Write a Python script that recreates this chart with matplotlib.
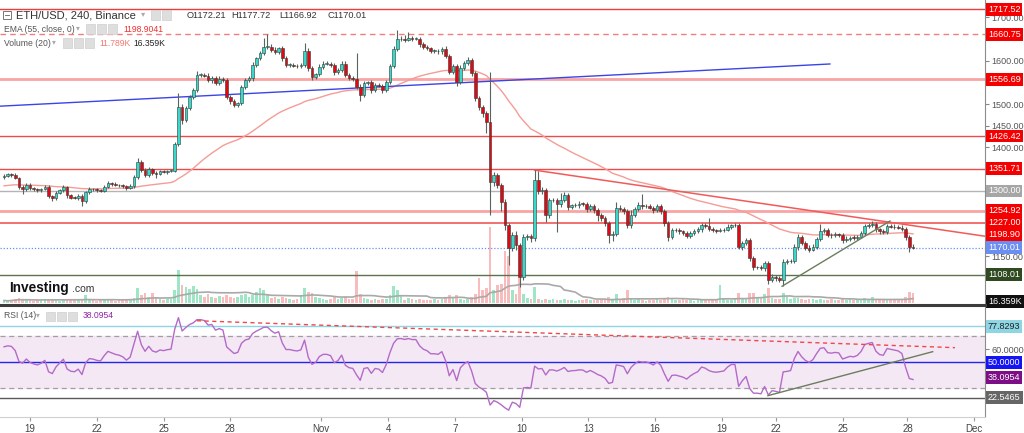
import numpy as np
import pandas as pd
import matplotlib
matplotlib.use("Agg")
import matplotlib.pyplot as plt
from matplotlib.patches import Rectangle
from matplotlib.lines import Line2D
from matplotlib.transforms import blended_transform_factory

plt.rcParams['font.family'] = ['Liberation Sans', 'DejaVu Sans']

# ETH/USD 4h candles, first candle index -7 (Oct 18), last one Nov 28
FIRST_INDEX = -7
FIRST_OPEN = 1332
closes = [
    1335, 1338, 1337, 1330, 1309, 1305, 1314, 1307, 1304, 1302,
    1305, 1310, 1288, 1284, 1295, 1302, 1309, 1290, 1285, 1284,
    1288, 1277, 1297, 1305, 1304, 1302, 1301, 1310, 1318, 1316,
    1314, 1313, 1311, 1307, 1311, 1332, 1367, 1348, 1337, 1350,
    1342, 1340, 1345, 1344, 1346, 1347, 1408, 1493, 1463, 1490,
    1516, 1532, 1567, 1567, 1565, 1555, 1560, 1548, 1558, 1555,
    1516, 1507, 1498, 1502, 1539, 1555, 1560, 1590, 1605, 1617,
    1631, 1632, 1625, 1620, 1628, 1605, 1590, 1590, 1588, 1587,
    1590, 1622, 1583, 1562, 1568, 1586, 1593, 1593, 1590, 1573,
    1578, 1593, 1567, 1560, 1558, 1539, 1520, 1548, 1550, 1532,
    1544, 1542, 1532, 1551, 1587, 1626, 1649, 1650, 1648, 1652,
    1650, 1650, 1638, 1631, 1628, 1622, 1622, 1621, 1627, 1611,
    1574, 1587, 1551, 1583, 1594, 1601, 1571, 1514, 1493, 1479,
    1459, 1321, 1336, 1314, 1275, 1222, 1169, 1199, 1175, 1102,
    1194, 1196, 1191, 1325, 1300, 1303, 1245, 1279, 1279, 1270,
    1279, 1291, 1263, 1267, 1268, 1271, 1270, 1258, 1265, 1256,
    1245, 1238, 1226, 1199, 1202, 1261, 1258, 1254, 1222, 1245,
    1258, 1268, 1265, 1266, 1262, 1256, 1265, 1255, 1226, 1194,
    1210, 1211, 1207, 1203, 1196, 1203, 1208, 1212, 1222, 1219,
    1213, 1210, 1209, 1210, 1211, 1217, 1221, 1221, 1171, 1180,
    1187, 1146, 1125, 1125, 1122, 1134, 1095, 1103, 1100, 1095,
    1137, 1138, 1140, 1171, 1194, 1180, 1170, 1165, 1172, 1190,
    1208, 1210, 1199, 1198, 1200, 1199, 1187, 1190, 1193, 1192,
    1195, 1203, 1219, 1222, 1224, 1212, 1207, 1206, 1219, 1218,
    1217, 1216, 1213, 1194, 1172.21, 1170.01,
]
wick_up = [
    3, 4, 3, 4, 3, 5, 4, 4, 3, 4,
    3, 4, 4, 3, 4, 3, 4, 3, 4, 3,
    4, 4, 4, 5, 3, 4, 3, 4, 5, 3,
    4, 3, 4, 3, 4, 5, 8, 5, 4, 5,
    4, 5, 3, 4, 3, 4, 5, 32, 6, 5,
    4, 5, 8, 5, 4, 6, 4, 5, 6, 4,
    4, 5, 4, 3, 5, 4, 5, 6, 4, 5,
    21, 29, 6, 5, 4, 5, 6, 4, 5, 4,
    5, 18, 6, 5, 4, 6, 5, 7, 4, 5,
    4, 6, 5, 4, 5, 60, 6, 5, 4, 5,
    4, 5, 4, 5, 6, 7, 21, 6, 8, 14,
    5, 4, 5, 4, 5, 4, 4, 5, 4, 6,
    5, 6, 5, 6, 5, 7, 5, 6, 5, 4,
    5, 115, 8, 6, 5, 6, 5, 6, 8, 5,
    6, 5, 4, 23, 20, 6, 5, 6, 5, 4,
    16, 6, 5, 4, 5, 6, 4, 5, 6, 4,
    5, 4, 5, 6, 5, 14, 6, 5, 4, 12,
    5, 6, 25, 4, 5, 4, 6, 5, 4, 5,
    4, 5, 3, 4, 5, 4, 5, 6, 5, 4,
    18, 4, 3, 4, 5, 6, 4, 5, 6, 4,
    5, 4, 5, 3, 4, 5, 4, 6, 4, 5,
    6, 5, 4, 6, 7, 5, 4, 5, 6, 5,
    15, 6, 5, 4, 5, 4, 5, 6, 4, 5,
    4, 5, 6, 5, 8, 5, 4, 5, 6, 4,
    5, 4, 5, 4, 5, 5.51,
]
wick_dn = [
    4, 3, 4, 3, 5, 12, 4, 5, 3, 4,
    4, 3, 5, 6, 4, 3, 4, 5, 4, 3,
    4, 12, 4, 3, 4, 5, 3, 4, 3, 4,
    3, 4, 5, 4, 3, 4, 5, 4, 5, 4,
    5, 10, 4, 3, 4, 3, 4, 5, 8, 5,
    4, 5, 4, 5, 4, 5, 6, 5, 4, 5,
    5, 6, 5, 4, 5, 4, 5, 6, 5, 4,
    5, 4, 6, 5, 4, 5, 6, 5, 4, 5,
    4, 5, 8, 6, 5, 4, 5, 4, 5, 6,
    5, 4, 6, 5, 4, 5, 12, 5, 4, 6,
    5, 4, 6, 5, 4, 5, 4, 5, 6, 4,
    5, 4, 6, 5, 4, 5, 4, 5, 6, 5,
    5, 6, 10, 5, 4, 5, 6, 7, 6, 8,
    26, 76, 10, 8, 20, 12, 40, 8, 10, 23,
    7, 6, 8, 5, 6, 7, 17, 6, 5, 65,
    6, 5, 7, 5, 4, 6, 5, 7, 4, 6,
    15, 6, 7, 19, 15, 6, 5, 7, 8, 6,
    5, 4, 6, 5, 4, 6, 5, 7, 6, 8,
    5, 4, 6, 5, 4, 5, 4, 5, 6, 5,
    5, 4, 5, 4, 5, 4, 5, 4, 5, 6,
    5, 8, 6, 5, 4, 6, 8, 5, 6, 5,
    14, 5, 4, 5, 6, 5, 6, 5, 4, 5,
    5, 4, 5, 6, 4, 5, 6, 4, 5, 4,
    5, 4, 5, 4, 5, 6, 5, 4, 5, 4,
    5, 4, 5, 6, 12, 3.09,
]
# volume in thousands
volume = [
    4, 3, 5, 6, 8, 5, 4, 6, 3, 4,
    5, 7, 6, 4, 5, 3, 6, 4, 7, 5,
    4, 6, 13, 5, 4, 3, 4, 5, 6, 4,
    3, 5, 4, 6, 5, 8, 24, 13, 16, 10,
    16, 10, 6, 5, 7, 6, 21, 53, 29, 26,
    22, 27, 22, 12, 9, 14, 10, 8, 11, 9,
    13, 10, 8, 9, 12, 15, 10, 13, 18, 24,
    20, 12, 8, 9, 7, 10, 8, 6, 5, 7,
    12, 24, 18, 16, 10, 8, 6, 5, 7, 9,
    6, 8, 10, 7, 6, 50, 14, 8, 6, 5,
    6, 5, 7, 6, 12, 27, 20, 12, 5, 8,
    6, 5, 7, 5, 5, 4, 6, 5, 6, 9,
    13, 8, 12, 6, 5, 7, 10, 15, 40, 21,
    24, 120, 20, 28, 30, 82, 74, 20, 15, 40,
    15, 8, 6, 26, 7, 5, 6, 5, 7, 5,
    4, 6, 5, 4, 3, 5, 4, 6, 4, 5,
    4, 6, 7, 10, 6, 14, 5, 8, 20, 6,
    5, 6, 4, 3, 5, 4, 6, 5, 8, 9,
    7, 5, 4, 6, 4, 5, 3, 4, 6, 5,
    4, 5, 6, 28, 8, 5, 4, 6, 16, 8,
    7, 16, 16, 10, 8, 14, 24, 8, 6, 7,
    16, 9, 7, 8, 8, 6, 5, 7, 6, 5,
    6, 5, 4, 6, 5, 4, 7, 5, 6, 4,
    5, 6, 8, 5, 9, 6, 5, 4, 6, 5,
    4, 5, 6, 9, 17, 16.359,
]

EMA_PERIOD = 55
EMA_SEED = 1311
RSI_PERIOD = 14
RSI_SEED_GAIN = 7.0
RSI_SEED_LOSS = 4.3
VOL_MA_PERIOD = 20

tick_pos = [0, 18, 36, 54, 78.5, 96.5, 114.5, 132.5, 150.5, 168.5, 186.5, 201, 219, 236.5, 254.5]
tick_labels = ['19', '22', '25', '28', 'Nov', '4', '7', '10', '13', '16', '19', '22', '25', '28', 'Dec']
price_ticks = [1150, 1400, 1450, 1500, 1600, 1700]
rsi_ticks = [60]

# horizontal levels drawn on the price pane
level_prices = [1717.52, 1660.75, 1556.69, 1426.42, 1351.71, 1300.00, 1254.92, 1227.00, 1108.01]
level_colors = ['#f23a3a', '#f37c7c', '#f9a5a5', '#ee4a4a', '#ee4a4a', '#b4b4b4', '#f9a5a5', '#f37070', '#5d7350']
level_styles = ['-', (0, (4, 3)), '-', '-', '-', '-', '-', '-', '-']
level_widths = [1.0, 1.0, 2.0, 1.0, 1.0, 1.0, 2.0, 1.4, 1.0]
last_price = 1170.01
ema_last = 1198.90
vol_last = 16.359

blue_line_x, blue_line_y = [-8.09, 215.6], [1495, 1592]
red_trend_x, red_trend_y = [136, 257.4], [1348, 1196]
green_trend_x, green_trend_y = [202.7, 231.8], [1081, 1231]
rsi_red_x, rsi_red_y = [45, 249.3], [82.1, 61.3]
rsi_green_x, rsi_green_y = [198.9, 243.3], [24.2, 58.2]
rsi_levels = [77.8293, 50.0, 22.5465]
rsi_last = 38.0954

W, H = 1024, 433
XMIN, XMAX = -8.09, 257.4


def fx(x):
    return x / W


def fy(y):
    return 1 - y / H


def ema(vals, n, seed):
    k = 2 / (n + 1)
    e = seed
    out = []
    for v in vals:
        e = e + k * (v - e)
        out.append(e)
    return np.array(out)


def rsi(vals, n, g0, l0):
    ag, al = g0, l0
    out = [100 - 100 / (1 + ag / al)]
    for prev, v in zip(vals[:-1], vals[1:]):
        d = v - prev
        ag = (ag * (n - 1) + max(d, 0)) / n
        al = (al * (n - 1) + max(-d, 0)) / n
        out.append(100 - 100 / (1 + ag / al))
    return np.array(out)


c = np.array(closes, dtype=float)
o = np.r_[FIRST_OPEN, c[:-1]]
hi = np.maximum(o, c) + np.array(wick_up)
lo = np.minimum(o, c) - np.array(wick_dn)
idx = np.arange(FIRST_INDEX, FIRST_INDEX + len(c))
up = c >= o
vol = np.array(volume, dtype=float)

UP_C, DN_C = '#38d9cb', '#e30613'
fig = plt.figure(figsize=(W / 100, H / 100), dpi=100)

# ---- price pane
ax = fig.add_axes([0, fy(303), fx(985), 303 / H])
axv = ax.twinx()
axv.set_zorder(ax.get_zorder() - 1)
ax.patch.set_visible(False)
axv.bar(idx, vol, width=0.72, color=np.where(up, '#9fe6c6', '#f9bcbc'), linewidth=0)
axv.plot(idx, pd.Series(vol).rolling(VOL_MA_PERIOD, min_periods=1).mean(), color='#a9a9a9', lw=1.2)
axv.set_ylim(0, 480)
axv.set_yticks([])
for s in axv.spines.values():
    s.set_visible(False)

for p, col, ls, lw in zip(level_prices, level_colors, level_styles, level_widths):
    ax.axhline(p, color=col, ls=ls, lw=lw, zorder=1)
ax.axhline(last_price, color='#6f8ff0', ls=(0, (1, 1.5)), lw=0.9, zorder=1)

ax.plot(idx, ema(c, EMA_PERIOD, EMA_SEED), color='#f59c96', lw=1.0, zorder=2)
ax.plot(blue_line_x, blue_line_y, color='#3a45e6', lw=1.0, zorder=2)
ax.plot(red_trend_x, red_trend_y, color='#f25a5a', lw=1.1, zorder=2)
ax.plot(green_trend_x, green_trend_y, color='#6c7d5c', lw=1.0, zorder=5)

ax.vlines(idx, lo, hi, color='#56655a', lw=0.8, zorder=3)
body = np.maximum(np.abs(c - o), 1.3)
ax.bar(idx, body, bottom=np.minimum(o, c), width=0.72, color=np.where(up, UP_C, DN_C),
       edgecolor='#2e3b35', linewidth=0.4, zorder=4)

ax.set_xlim(XMIN, XMAX)
ax.set_ylim(1042.5, 1739.1)
ax.yaxis.tick_right()
ax.set_yticks(price_ticks)
ax.yaxis.set_major_formatter('{x:.2f}')
ax.tick_params(axis='y', length=3, pad=1.5, labelsize=6.5, colors='#888', labelcolor='#555')
ax.set_xticks([])
for side in ['top', 'left', 'bottom']:
    ax.spines[side].set_visible(False)
ax.spines['right'].set_color('#8c8c8c')

# ---- RSI pane
axr = fig.add_axes([0, fy(417), fx(985), (417 - 306) / H])
axr.axhspan(30, 70, color='#f4e8f5', zorder=0)
axr.axhline(70, color='#a0a0a0', ls=(0, (4, 3)), lw=0.9)
axr.axhline(30, color='#a0a0a0', ls=(0, (4, 3)), lw=0.9)
axr.axhline(rsi_levels[0], color='#8fd6e4', lw=1.0)
axr.axhline(rsi_levels[1], color='#2323f0', lw=1.0)
axr.axhline(rsi_levels[2], color='#5a5a5a', lw=1.0)
axr.plot(idx, rsi(c, RSI_PERIOD, RSI_SEED_GAIN, RSI_SEED_LOSS), color='#b46ac8', lw=1.0)
axr.plot(rsi_red_x, rsi_red_y, color='#f04848', ls=(0, (3, 2.5)), lw=1.0)
axr.plot(rsi_green_x, rsi_green_y, color='#6c7d5c', lw=1.0)
axr.set_xlim(XMIN, XMAX)
axr.set_ylim(7.7, 93.5)
axr.yaxis.tick_right()
axr.set_yticks(rsi_ticks)
axr.yaxis.set_major_formatter('{x:.4f}')
axr.tick_params(axis='y', length=3, pad=1.5, labelsize=6.5, colors='#888', labelcolor='#555')
axr.set_xticks(tick_pos)
axr.set_xticklabels(tick_labels)
axr.tick_params(axis='x', length=3, pad=2, labelsize=7, colors='#999', labelcolor='#444')
for side in ['top', 'left']:
    axr.spines[side].set_visible(False)
axr.spines['right'].set_color('#8c8c8c')
axr.spines['bottom'].set_color('#cfcfcf')

# pane separator
fig.add_artist(Line2D([0, fx(985)], [fy(304.5), fy(304.5)], color='#3c3c3c', lw=2.2))


def side_label(axis, value, text, fc, tc='white'):
    tr = blended_transform_factory(fig.transFigure, axis.transData)
    axis.text(fx(988), value, text, transform=tr, ha='left', va='center', fontsize=6.5,
              color=tc, zorder=20, clip_on=False,
              bbox=dict(boxstyle='square,pad=0.22', fc=fc, ec='none'))


for p in [1717.52, 1660.75, 1556.69, 1426.42, 1351.71, 1254.92, 1227.00]:
    side_label(ax, p, f'{p:.2f}', '#f40000')
side_label(ax, 1300.00, '1300.00', '#a6a6a6')
side_label(ax, ema_last, f'{ema_last:.2f}', '#f40000')
side_label(ax, last_price, f'{last_price:.2f}', '#6b8ef2')
side_label(ax, 1108.01, '1108.01', '#2f4a20')
side_label(ax, 1046, f'{vol_last:.3f}K', '#111111')
side_label(axr, rsi_levels[0], f'{rsi_levels[0]:.4f}', '#8fd6e4', '#222')
side_label(axr, rsi_levels[1], f'{rsi_levels[1]:.4f}', '#1414f5')
side_label(axr, rsi_last, f'{rsi_last:.4f}', '#7d0f86')
side_label(axr, rsi_levels[2], f'{rsi_levels[2]:.4f}', '#666666')


# ---- legends
def icons(x0, y, n):
    for k in range(n):
        fig.add_artist(Rectangle((fx(x0 + k * 11), fy(y + 4.5)), fx(9), 9 / H,
                                 fc='#dedede', ec='#cfcfcf', lw=0.5))


fig.add_artist(Rectangle((fx(3), fy(19)), fx(8), 8 / H, fc='white', ec='#777', lw=0.7))
fig.add_artist(Line2D([fx(4.8), fx(9.2)], [fy(15), fy(15)], color='#777', lw=0.7))
fig.text(fx(16), fy(15), 'ETH/USD, 240, Binance', fontsize=8, color='#333', va='center')
fig.text(fx(141), fy(15), '▾', fontsize=6, color='#aaa', va='center')
icons(151, 15, 2)
for xp, t in zip([187, 231, 279, 327], ['O1172.21', 'H1177.72', 'L1166.92', 'C1170.01']):
    fig.text(fx(xp), fy(15), t, fontsize=6.6, color='#333', va='center')

fig.text(fx(4), fy(29), 'EMA (55, close, 0)', fontsize=6.2, color='#555', va='center')
fig.text(fx(76), fy(29), '▾', fontsize=5.5, color='#aaa', va='center')
icons(86, 29, 3)
fig.text(fx(123), fy(29), '1198.9041', fontsize=6.2, color='#f03030', va='center')

fig.text(fx(4), fy(43), 'Volume (20)', fontsize=6.2, color='#555', va='center')
fig.text(fx(52), fy(43), '▾', fontsize=5.5, color='#aaa', va='center')
icons(63, 43, 3)
fig.text(fx(99), fy(43), '11.789K', fontsize=6.2, color='#f07a70', va='center')
fig.text(fx(133), fy(43), '16.359K', fontsize=6.2, color='#222', va='center')

fig.text(fx(4), fy(316), 'RSI (14)', fontsize=6.2, color='#555', va='center')
fig.text(fx(36), fy(316), '▾', fontsize=5.5, color='#aaa', va='center')
icons(46, 316, 3)
fig.text(fx(83), fy(316), '38.0954', fontsize=6.2, color='#8e24aa', va='center')

fig.text(fx(9), fy(288), 'Investing', fontsize=9.8, fontweight='bold', color='#111', va='center')
fig.text(fx(72), fy(289.5), '.com', fontsize=7.5, color='#333', va='center')

fig.savefig('out.png', dpi=100)
